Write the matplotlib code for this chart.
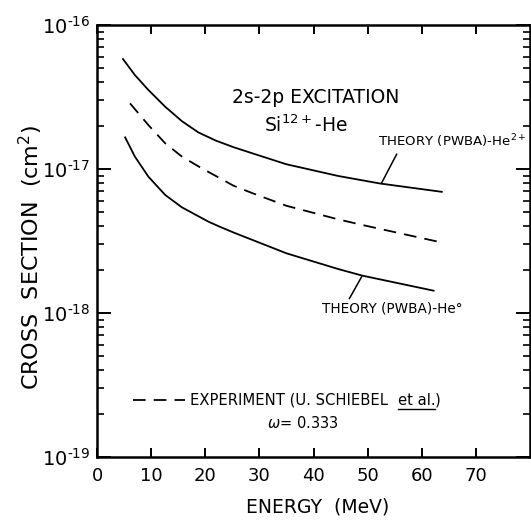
import matplotlib
matplotlib.use('Agg')
import matplotlib.pyplot as plt
import numpy as np

# curve values (energy in MeV, cross section in cm^2)
e_he2 = [4.8, 7.0, 9.5, 12.6, 15.7, 18.7, 21.9, 25.2, 28.9, 35.0, 44.6, 52.3, 63.7]
s_he2 = [5.81e-17, 4.50e-17, 3.54e-17, 2.71e-17, 2.15e-17, 1.80e-17, 1.58e-17,
         1.42e-17, 1.28e-17, 1.08e-17, 8.95e-18, 7.94e-18, 6.95e-18]

e_exp = [6.1, 9.5, 12.6, 15.7, 19.4, 22.8, 25.2, 28.9, 35.0, 44.6, 49.8, 63.7]
s_exp = [2.86e-17, 2.02e-17, 1.51e-17, 1.22e-17, 1.01e-17, 8.61e-18, 7.67e-18,
         6.76e-18, 5.56e-18, 4.47e-18, 4.03e-18, 3.09e-18]

e_he0 = [5.2, 7.0, 9.5, 12.6, 15.7, 20.6, 22.8, 25.2, 28.9, 35.0, 44.6, 49.0, 62.2]
s_he0 = [1.66e-17, 1.22e-17, 8.85e-18, 6.61e-18, 5.42e-18, 4.31e-18, 3.96e-18,
         3.63e-18, 3.20e-18, 2.60e-18, 2.02e-18, 1.82e-18, 1.43e-18]

xticks = [0, 10, 20, 30, 40, 50, 60, 70]
yticks = [1e-19, 1e-18, 1e-17, 1e-16]
ylabels = ['$10^{\u201019}$', '$10^{\u201018}$', '$10^{\u201017}$', '$10^{\u201016}$']

fig = plt.figure(figsize=(5.31, 5.21), dpi=100)
ax = fig.add_axes([0.1827, 0.1228, 0.8154, 0.829])

lw = 1.3
ax.plot(e_he2, s_he2, color='black', lw=lw)
ax.plot(e_exp, s_exp, color='black', lw=lw, dashes=(7, 4.5))
ax.plot(e_he0, s_he0, color='black', lw=lw)

ax.set_yscale('log')
ax.set_xlim(0, 80)
ax.set_ylim(1e-19, 1e-16)
ax.set_xticks(xticks)
ax.set_xticklabels([str(t) for t in xticks])
ax.set_yticks(yticks)
ax.set_yticklabels(ylabels)

for s in ax.spines.values():
    s.set_linewidth(1.8)
ax.tick_params(which='both', direction='in', top=True, right=True, colors='black')
ax.tick_params(axis='x', which='major', length=6.5, width=1.4, labelsize=13, pad=7)
ax.tick_params(axis='y', which='major', length=10, width=1.4, labelsize=14, pad=5)
ax.tick_params(axis='y', which='minor', length=5, width=1.2)

ax.set_xlabel('ENERGY  (MeV)', fontsize=13.5)
ax.xaxis.set_label_coords(0.51, -0.093)
ax.set_ylabel('CROSS  SECTION  (cm$^2$)', fontsize=16)
ax.yaxis.set_label_coords(-0.12, 0.463)

ax.text(0.506, 0.832, '2s-2p EXCITATION', transform=ax.transAxes, fontsize=13.5,
        ha='center', va='center')
ax.text(0.483, 0.767, 'Si$^{12+}$-He', transform=ax.transAxes, fontsize=13.5,
        ha='center', va='center')

ax.text(0.649, 0.732, 'THEORY (PWBA)-He$^{2+}$', transform=ax.transAxes, fontsize=9.6,
        ha='left', va='center')
ax.plot([0.692, 0.657], [0.701, 0.634], transform=ax.transAxes, color='black', lw=1.1)

ax.text(0.519, 0.343, 'THEORY (PWBA)-He°', transform=ax.transAxes, fontsize=9.8,
        ha='left', va='center')
ax.plot([0.611, 0.583], [0.417, 0.367], transform=ax.transAxes, color='black', lw=1.1)

# legend for the dashed curve
ax.plot([0.084, 0.203], [0.132, 0.132], transform=ax.transAxes, color='black',
        lw=lw, dashes=(7, 4.5))
t1 = ax.text(0.215, 0.132, 'EXPERIMENT (U. SCHIEBEL  ', transform=ax.transAxes,
             fontsize=10.6, ha='left', va='center')
fig.canvas.draw()
bb = t1.get_window_extent().transformed(ax.transAxes.inverted())
t2 = ax.text(bb.x1, 0.132, 'et al.', transform=ax.transAxes, fontsize=10.6,
             ha='left', va='center')
fig.canvas.draw()
bb2 = t2.get_window_extent().transformed(ax.transAxes.inverted())
ax.plot([bb2.x0, bb2.x1], [bb2.y0 - 0.004, bb2.y0 - 0.004], transform=ax.transAxes,
        color='black', lw=1.0)
ax.text(bb2.x1, 0.132, ')', transform=ax.transAxes, fontsize=10.6, ha='left', va='center')
ax.text(0.476, 0.079, '$\\omega$= 0.333', transform=ax.transAxes, fontsize=10.5,
        ha='center', va='center')

fig.savefig('out.png', dpi=100)
